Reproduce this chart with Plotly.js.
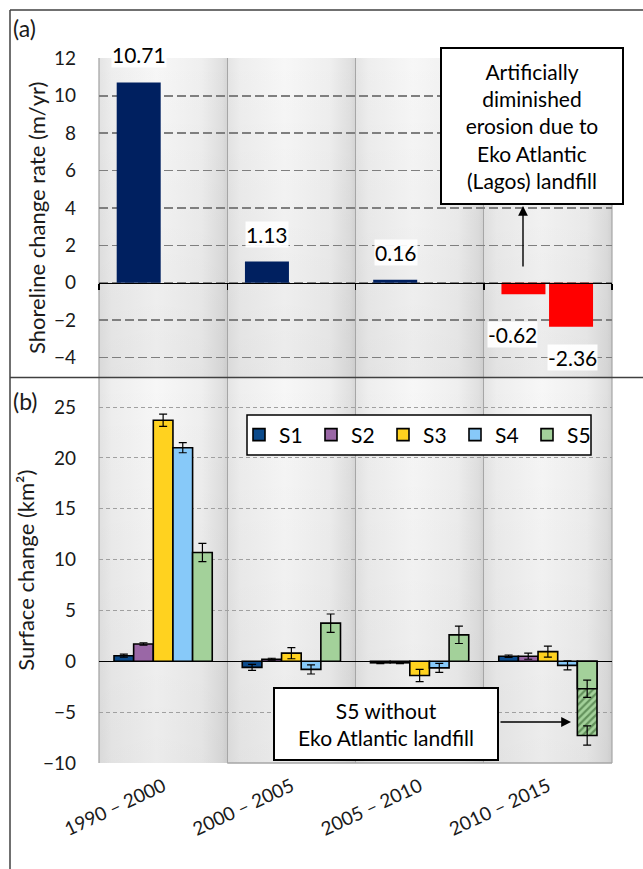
<!DOCTYPE html>
<html>
<head>
<meta charset="utf-8">
<script src="https://cdn.plot.ly/plotly-3.0.1.min.js"></script>
<style>html,body{margin:0;padding:0;background:#fff;}#chart{width:643px;height:869px;}</style>
</head>
<body>
<div id="chart"></div>
<script>
// ---------------- data ----------------
const categories = ['1990 – 2000', '2000 – 2005', '2005 – 2010', '2010 – 2015'];

// panel (a): shoreline change rate (m/yr)
const shorelineRate = [10.71, 1.13, 0.16, -0.62];
const shorelineRateLagos = [null, null, null, -2.36];
const shorelineColors = ['#002060', '#002060', '#002060', '#FF0000'];

// panel (b): surface change (km²) per sector
const seriesNames = ['S1', 'S2', 'S3', 'S4', 'S5'];
const s1 = [0.55, -0.6, -0.15, 0.5];
const s2 = [1.7, 0.2, -0.15, 0.5];
const s3 = [23.7, 0.8, -1.4, 0.95];
const s4 = [21.0, -0.8, -0.65, -0.4];
const s5 = [10.7, 3.75, 2.6, -2.7];
const s1Err = [0.15, 0.3, 0.08, 0.12];
const s2Err = [0.12, 0.1, 0.08, 0.3];
const s3Err = [0.6, 0.55, 0.6, 0.55];
const s4Err = [0.5, 0.45, 0.45, 0.45];
const s5Err = [0.9, 0.9, 0.85, 0.85];
const s5WithoutLandfill = [null, null, null, -7.3];
const s5WithoutLandfillErr = [0, 0, 0, 0.95];
const seriesColors = ['#0B4A8B', '#9A67A6', '#FFD21F', '#87C9F9', '#A3D19A'];

// ---------------- geometry helpers (pixels -> paper) ----------------
const W = 643, H = 869;
const M = {l: 99, r: 31, t: 58, b: 106};
const PW = W - M.l - M.r, PH = H - M.t - M.b;
const px = x => (x - M.l) / PW;
const py = y => (H - M.b - y) / PH;
const split = py(377.5);
const catPx = PW / 4;

const FONT = 'Lato, "Open Sans", sans-serif';
const TXT = '#1a1a1a';

// ---------------- traces ----------------
const traces = [];
const topBarW = 44 / catPx;
traces.push({
  type: 'bar', x: categories, y: shorelineRate, xaxis: 'x', yaxis: 'y',
  width: topBarW, offset: -0.5 + 17.7 / catPx,
  marker: {color: shorelineColors}, showlegend: false, hoverinfo: 'x+y'
});
traces.push({
  type: 'bar', x: categories, y: shorelineRateLagos, xaxis: 'x', yaxis: 'y',
  width: topBarW, offset: -0.5 + 65.3 / catPx,
  marker: {color: '#FF0000'}, showlegend: false, hoverinfo: 'x+y'
});

const sVals = [s1, s2, s3, s4, s5];
const sErrs = [s1Err, s2Err, s3Err, s4Err, s5Err];
for (let i = 0; i < 5; i++) {
  if (i === 4) {
    traces.push({
      type: 'bar', x: categories, y: s5WithoutLandfill, xaxis: 'x2', yaxis: 'y2',
      offsetgroup: 'g5', showlegend: false, name: 'S5 without Eko Atlantic landfill',
      marker: {color: seriesColors[4], line: {color: '#000', width: 1.6},
        pattern: {shape: '/', fgcolor: '#24521e', bgcolor: seriesColors[4], size: 5, solidity: 0.45, fillmode: 'overlay'}},
      error_y: {type: 'data', array: s5WithoutLandfillErr, color: '#000', thickness: 1.2, width: 4}
    });
  }
  traces.push({
    type: 'bar', x: categories, y: sVals[i], xaxis: 'x2', yaxis: 'y2',
    name: seriesNames[i], offsetgroup: 'g' + (i + 1),
    marker: {color: seriesColors[i], line: {color: '#000', width: 1.6}},
    error_y: {type: 'data', array: sErrs[i], color: '#000', thickness: 1.2, width: 4}
  });
}

// ---------------- background gradient image ----------------
let svg = `<svg xmlns='http://www.w3.org/2000/svg' width='${PW}' height='${PH}' viewBox='0 0 ${PW} ${PH}' preserveAspectRatio='none'>` +
  `<defs><linearGradient id='h' x1='0' x2='1' y1='0' y2='0'>` +
  `<stop offset='0' stop-color='#e4e4e4'/><stop offset='0.1' stop-color='#eeeeee'/>` +
  `<stop offset='0.45' stop-color='#f7f7f7'/><stop offset='0.8' stop-color='#efefef'/>` +
  `<stop offset='0.96' stop-color='#e0e0e0'/><stop offset='1' stop-color='#d6d6d6'/></linearGradient>` +
  `<linearGradient id='v' x1='0' x2='0' y1='0' y2='1'><stop offset='0' stop-color='#000' stop-opacity='0'/>` +
  `<stop offset='1' stop-color='#000' stop-opacity='0.05'/></linearGradient></defs>`;
for (let i = 0; i < 4; i++) svg += `<rect x='${i * catPx}' y='0' width='${catPx}' height='${PH}' fill='url(#h)'/>`;
const topH = (1 - split) * PH;
svg += `<rect x='0' y='0' width='${PW}' height='${topH}' fill='url(#v)'/>`;
svg += `<rect x='0' y='${topH}' width='${PW}' height='${PH - topH}' fill='url(#v)'/>`;
svg += `</svg>`;
const bgSrc = 'data:image/svg+xml;charset=utf-8,' + encodeURIComponent(svg);

// ---------------- annotations ----------------
const annotations = [];
annotations.push({xref: 'paper', yref: 'paper', x: px(11), y: py(28), xanchor: 'left', yanchor: 'middle',
  text: '(a)', showarrow: false, font: {family: FONT, size: 23, color: TXT}});
annotations.push({xref: 'paper', yref: 'paper', x: px(11), y: py(401), xanchor: 'left', yanchor: 'middle',
  text: '(b)', showarrow: false, font: {family: FONT, size: 23, color: TXT}});

// data labels for panel (a)
const labelShift = [[-24, 14], [-24, 14], [-24, 14], [-35, -27]];
shorelineRate.forEach((v, i) => {
  annotations.push({xref: 'x', yref: 'y', x: categories[i], y: v, xshift: labelShift[i][0], yshift: labelShift[i][1],
    yanchor: v >= 0 ? 'bottom' : 'top', text: v.toFixed(2), showarrow: false,
    bgcolor: 'rgba(255,255,255,0.92)', borderpad: 0, font: {family: FONT, size: 21, color: '#000'}});
});
shorelineRateLagos.forEach((v, i) => {
  if (v === null) return;
  annotations.push({xref: 'x', yref: 'y', x: categories[i], y: v, xshift: 25, yshift: -17,
    yanchor: 'top', text: v.toFixed(2), showarrow: false,
    bgcolor: 'rgba(255,255,255,0.92)', borderpad: 0, font: {family: FONT, size: 21, color: '#000'}});
});

// callout boxes
annotations.push({xref: 'paper', yref: 'paper', x: px(532), y: py(126.5), xanchor: 'center', yanchor: 'middle',
  text: 'Artificially<br>diminished<br>erosion due to<br>Eko Atlantic<br>(Lagos) landfill',
  showarrow: false, bgcolor: '#fff', bordercolor: '#000', borderwidth: 2, borderpad: 1,
  width: 178, height: 152, align: 'center', font: {family: FONT, size: 21, color: '#000'}});
annotations.push({xref: 'paper', yref: 'paper', x: px(523), y: py(206), ax: 0, ay: 62, axref: 'pixel', ayref: 'pixel',
  text: '', showarrow: true, arrowhead: 2, arrowsize: 1.4, arrowwidth: 1.4, arrowcolor: '#000'});

annotations.push({xref: 'paper', yref: 'paper', x: px(386), y: py(724), xanchor: 'center', yanchor: 'middle',
  text: 'S5 without<br>Eko Atlantic landfill',
  showarrow: false, bgcolor: '#fff', bordercolor: '#000', borderwidth: 2, borderpad: 1,
  width: 220, height: 68, align: 'center', font: {family: FONT, size: 21, color: '#000'}});
annotations.push({xref: 'paper', yref: 'paper', x: px(571), y: py(722), ax: -72, ay: 0, axref: 'pixel', ayref: 'pixel',
  text: '', showarrow: true, arrowhead: 2, arrowsize: 1.4, arrowwidth: 1.4, arrowcolor: '#000'});

// ---------------- shapes (frame + borders + legend box) ----------------
const frameColor = '#404040';
const shapes = [
  {type: 'line', xref: 'paper', yref: 'paper', x0: px(10), x1: px(10), y0: py(869), y1: py(10), line: {color: frameColor, width: 1.5}},
  {type: 'line', xref: 'paper', yref: 'paper', x0: px(10), x1: px(643), y0: py(10), y1: py(10), line: {color: frameColor, width: 1.5}},
  {type: 'line', xref: 'paper', yref: 'paper', x0: px(10), x1: px(643), y0: split, y1: split, line: {color: frameColor, width: 1.5}},
  {type: 'line', xref: 'paper', yref: 'paper', x0: 0, x1: 0, y0: 0, y1: 1, line: {color: '#a0a0a0', width: 1.2}, layer: 'below'},
  {type: 'line', xref: 'paper', yref: 'paper', x0: 1, x1: 1, y0: 0, y1: 1, line: {color: '#a6a6a6', width: 1.2}, layer: 'below'},
  {type: 'line', xref: 'paper', yref: 'paper', x0: 0.25, x1: 1, y0: 0, y1: 0, line: {color: '#a6a6a6', width: 1.5}, layer: 'below'},
  {type: 'rect', xref: 'paper', yref: 'paper', x0: px(247), x1: px(591), y0: py(455), y1: py(415),
    fillcolor: '#fff', line: {color: '#000', width: 1.5}, layer: 'above'}
];

// ---------------- layout ----------------
const layout = {
  width: W, height: H,
  margin: M,
  paper_bgcolor: '#fff', plot_bgcolor: 'rgba(0,0,0,0)',
  font: {family: FONT, color: TXT},
  barmode: 'group',
  bargap: 0.234, bargroupgap: 0,
  showlegend: true,
  legend: {orientation: 'h', x: px(239), y: py(435), xanchor: 'left', yanchor: 'middle',
    bgcolor: 'rgba(0,0,0,0)', borderwidth: 0,
    font: {family: FONT, size: 21, color: '#000'}, entrywidth: 27, entrywidthmode: 'pixels', itemwidth: 30,
    traceorder: 'normal'},
  xaxis: {domain: [0, 1], anchor: 'free', position: py(282.7), type: 'category',
    range: [-0.5, 3.5], showline: true, linecolor: '#000', linewidth: 1.5,
    ticks: 'outside', tickson: 'boundaries', ticklen: 6, tickcolor: '#000', tickwidth: 1.5,
    showticklabels: false, showgrid: true, gridcolor: '#a6a6a6', gridwidth: 1.2, zeroline: false},
  yaxis: {domain: [split, 1], anchor: 'x', range: [-5.07, 12.02], tickvals: [-4, -2, 0, 2, 4, 6, 8, 10, 12],
    showgrid: true, gridcolor: '#7f7f7f', gridwidth: 1.5, griddash: '9px,4px',
    zeroline: false, showline: false, ticks: '', ticklabelstandoff: 22,
    tickfont: {family: FONT, size: 19, color: TXT},
    title: {text: 'Shoreline change rate (m/yr)', font: {family: FONT, size: 22, color: TXT}, standoff: 2}},
  xaxis2: {domain: [0, 1], anchor: 'y2', type: 'category', range: [-0.5, 3.5],
    showline: false, ticks: '', tickson: 'boundaries', showgrid: true, gridcolor: '#a6a6a6', gridwidth: 1.2,
    tickangle: -25, ticklabelstandoff: 8, tickfont: {family: FONT, size: 19, color: TXT}, zeroline: false},
  yaxis2: {domain: [0, split], anchor: 'x2', range: [-10, 27.9], tickvals: [-10, -5, 0, 5, 10, 15, 20, 25],
    showgrid: true, gridcolor: '#a0a0a0', gridwidth: 1, griddash: '4px,3px',
    zeroline: true, zerolinecolor: '#000', zerolinewidth: 1.2, ticks: '', ticklabelstandoff: 22,
    tickfont: {family: FONT, size: 19, color: TXT},
    title: {text: 'Surface change (km²)', font: {family: FONT, size: 22, color: TXT}, standoff: 2}},
  images: [{source: bgSrc, xref: 'paper', yref: 'paper', x: 0, y: 1, sizex: 1, sizey: 1,
    sizing: 'stretch', xanchor: 'left', yanchor: 'top', layer: 'below'}],
  shapes: shapes,
  annotations: annotations
};

Plotly.newPlot('chart', traces, layout, {displayModeBar: false, staticPlot: true});
</script>
</body>
</html>
